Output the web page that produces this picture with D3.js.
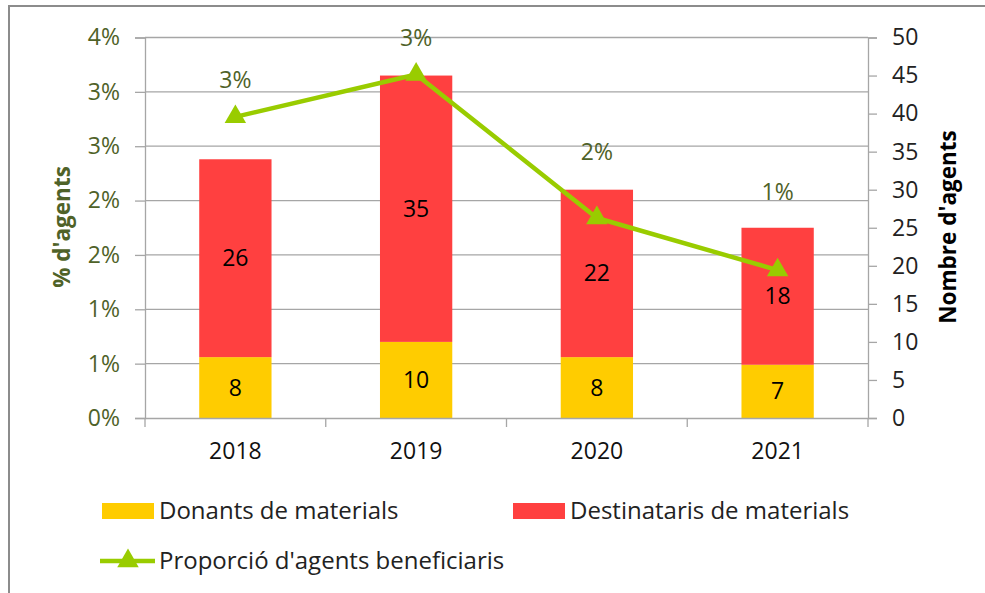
<!DOCTYPE html>
<html>
<head>
<meta charset="utf-8">
<script src="https://cdn.jsdelivr.net/npm/d3@7"></script>
<style>
  body { margin: 0; background: #fff; }
  svg { display: block; font-family: "Open Sans", sans-serif; }
</style>
</head>
<body>
<div id="chart"></div>
<script>
// Data
const years = ["2018", "2019", "2020", "2021"];
const donants = [8, 10, 8, 7];                 // Donants de materials
const destinataris = [26, 35, 22, 18];         // Destinataris de materials
const proporcio = [2.77, 3.16, 1.84, 1.36];    // Proporció d'agents beneficiaris (%)
const pctTicks = [0, 0.5, 1, 1.5, 2, 2.5, 3, 3.5];
const pctTickLabels = ["0%", "1%", "1%", "2%", "2%", "3%", "3%", "4%"];
const countTicks = [0, 5, 10, 15, 20, 25, 30, 35, 40, 45, 50];
const lineLabels = ["3%", "3%", "2%", "1%"];

// Label nudges (px) for the line's data labels, as placed in the original
const lineLabelDy = [-37, -37, -66, -78];

// Layout
const W = 985, H = 593;
const plot = { left: 145, right: 868, top: 37.5, bottom: 418 };
const fs = "23px";

const colDonants = "#FFCC00";
const colDest = "#FF4040";
const colLine = "#99CC00";
const colGreenText = "#4F6228";

const svg = d3.select("#chart")
  .append("svg")
  .attr("width", W)
  .attr("height", H);

// Outer chart frame
svg.append("rect")
  .attr("x", 9).attr("y", 6)
  .attr("width", W + 10).attr("height", H + 10)
  .attr("fill", "#fff")
  .attr("stroke", "#8c8c8c")
  .attr("stroke-width", 2);

// Scales
const x = d3.scaleBand()
  .domain(years)
  .range([plot.left, plot.right])
  .paddingInner(0.6)
  .paddingOuter(0.3);

const yPct = d3.scaleLinear().domain([0, 3.5]).range([plot.bottom, plot.top]);
const yCount = d3.scaleLinear().domain([0, 50]).range([plot.bottom, plot.top]);

// Gridlines (follow the % axis)
svg.append("g")
  .selectAll("line")
  .data(pctTicks.slice(1))
  .join("line")
  .attr("x1", plot.left).attr("x2", plot.right)
  .attr("y1", d => yPct(d)).attr("y2", d => yPct(d))
  .attr("stroke", "#a6a6a6")
  .attr("stroke-width", 1.3);

// Stacked bars
const stackData = years.map((y, i) => ({ year: y, donants: donants[i], destinataris: destinataris[i] }));
const series = d3.stack().keys(["donants", "destinataris"])(stackData);
const colors = { donants: colDonants, destinataris: colDest };

const groups = svg.append("g")
  .selectAll("g")
  .data(series)
  .join("g")
  .attr("fill", d => colors[d.key]);

groups.selectAll("rect")
  .data(d => d)
  .join("rect")
  .attr("x", d => x(d.data.year))
  .attr("width", x.bandwidth())
  .attr("y", d => yCount(d[1]))
  .attr("height", d => yCount(d[0]) - yCount(d[1]));

// Bar value labels
groups.selectAll("text")
  .data(d => d.map(v => ({ v, key: d.key })))
  .join("text")
  .attr("x", d => x(d.v.data.year) + x.bandwidth() / 2)
  .attr("y", d => (yCount(d.v[0]) + yCount(d.v[1])) / 2)
  .attr("dy", "0.35em")
  .attr("text-anchor", "middle")
  .attr("fill", "#000")
  .style("font-size", fs)
  .text(d => d.v.data[d.key]);

// Left axis (%)
const axisL = svg.append("g")
  .attr("transform", `translate(${plot.left},0)`)
  .call(d3.axisLeft(yPct).tickValues(pctTicks).tickFormat((d, i) => pctTickLabels[i]).tickSize(10).tickPadding(15));
axisL.select(".domain").attr("stroke", "#a6a6a6").attr("stroke-width", 1.3);
axisL.selectAll(".tick line").attr("stroke", "#a6a6a6").attr("stroke-width", 1.3);
axisL.selectAll("text").attr("fill", colGreenText).style("font-size", fs).style("font-family", "'Open Sans', sans-serif");

// Right axis (count)
const axisR = svg.append("g")
  .attr("transform", `translate(${plot.right},0)`)
  .call(d3.axisRight(yCount).tickValues(countTicks).tickSize(9).tickPadding(15));
axisR.select(".domain").attr("stroke", "#a6a6a6").attr("stroke-width", 1.3);
axisR.selectAll(".tick line").attr("stroke", "#a6a6a6").attr("stroke-width", 1.3);
axisR.selectAll("text").attr("fill", "#222").style("font-size", fs).style("font-family", "'Open Sans', sans-serif");

// Bottom axis (years)
const axisB = svg.append("g")
  .attr("transform", `translate(0,${plot.bottom})`)
  .call(d3.axisBottom(x).tickSize(0).tickPadding(25));
axisB.select(".domain").attr("stroke", "#a6a6a6").attr("stroke-width", 1.3);
axisB.selectAll("text").attr("fill", "#111").style("font-size", fs).style("font-family", "'Open Sans', sans-serif");
// Tick marks between categories
axisB.selectAll(".sep")
  .data(d3.range(years.length + 1))
  .join("line")
  .attr("class", "sep")
  .attr("x1", i => plot.left + i * (plot.right - plot.left) / years.length)
  .attr("x2", i => plot.left + i * (plot.right - plot.left) / years.length)
  .attr("y1", 0).attr("y2", 9)
  .attr("stroke", "#a6a6a6").attr("stroke-width", 1.3);

// Line (proportion)
const cx = i => x(years[i]) + x.bandwidth() / 2;
const line = d3.line()
  .x((d, i) => cx(i))
  .y(d => yPct(d));

svg.append("path")
  .datum(proporcio)
  .attr("fill", "none")
  .attr("stroke", colLine)
  .attr("stroke-width", 4.5)
  .attr("stroke-linejoin", "round")
  .attr("d", line);

const tri = d3.symbol().type(d3.symbolTriangle).size(200);
svg.append("g")
  .selectAll("path")
  .data(proporcio)
  .join("path")
  .attr("d", tri)
  .attr("transform", (d, i) => `translate(${cx(i)},${yPct(d)})`)
  .attr("fill", colLine);

// Line data labels
svg.append("g")
  .selectAll("text")
  .data(proporcio)
  .join("text")
  .attr("x", (d, i) => cx(i))
  .attr("y", (d, i) => yPct(d) + lineLabelDy[i])
  .attr("dy", "0.35em")
  .attr("text-anchor", "middle")
  .attr("fill", colGreenText)
  .style("font-size", fs)
  .text((d, i) => lineLabels[i]);

// Axis titles
svg.append("text")
  .attr("transform", "translate(62,227) rotate(-90)")
  .attr("text-anchor", "middle")
  .attr("dy", "0.35em")
  .attr("fill", colGreenText)
  .style("font-size", "22.5px")
  .style("font-weight", "bold")
  .text("% d'agents");

svg.append("text")
  .attr("transform", "translate(948,227) rotate(-90)")
  .attr("text-anchor", "middle")
  .attr("dy", "0.35em")
  .attr("fill", "#000")
  .style("font-size", "22.5px")
  .style("font-weight", "bold")
  .text("Nombre d'agents");

// Legend
const legend = svg.append("g").style("font-size", "24px").attr("fill", "#222");

const legItems = [
  { label: "Donants de materials", color: colDonants, x: 102, y: 511 },
  { label: "Destinataris de materials", color: colDest, x: 513, y: 511 }
];
legItems.forEach(it => {
  legend.append("rect")
    .attr("x", it.x).attr("y", it.y - 8)
    .attr("width", 52).attr("height", 16)
    .attr("fill", it.color);
  legend.append("text")
    .attr("x", it.x + 57).attr("y", it.y)
    .attr("dy", "0.35em")
    .text(it.label);
});

legend.append("line")
  .attr("x1", 100).attr("x2", 155)
  .attr("y1", 561).attr("y2", 561)
  .attr("stroke", colLine).attr("stroke-width", 4.5);
legend.append("path")
  .attr("d", tri)
  .attr("transform", "translate(128,561)")
  .attr("fill", colLine);
legend.append("text")
  .attr("x", 159).attr("y", 561)
  .attr("dy", "0.35em")
  .text("Proporció d'agents beneficiaris");
</script>
</body>
</html>
